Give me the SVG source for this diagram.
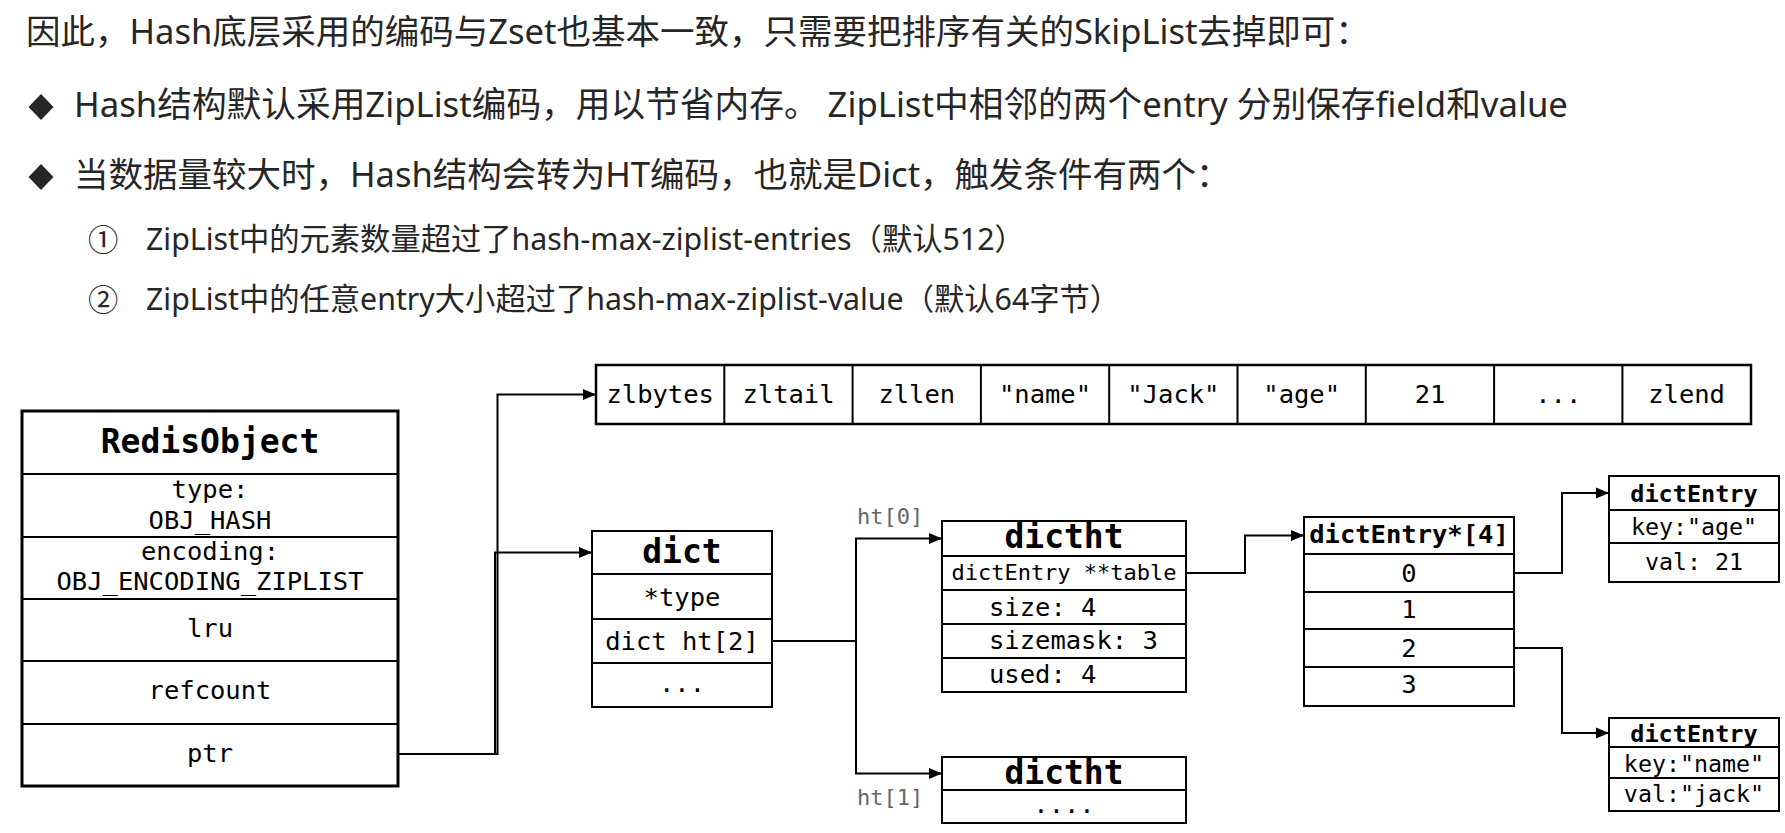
<svg xmlns="http://www.w3.org/2000/svg" width="1785" height="833" viewBox="0 0 1785 833">
<style>
.hd{font-family:"Noto Sans","Noto Sans CJK SC",sans-serif;fill:#262626}
.h1{font-size:34.5px}
.h2{font-size:30.3px}
.m{font-family:"DejaVu Sans Mono","Liberation Mono",monospace;fill:#000;font-size:25.5px}
.c{text-anchor:middle}
.b{font-weight:bold}
.t{font-size:33px}
.box{fill:#fff;stroke:#000;stroke-width:2}
.thick{stroke-width:3}
.zl{stroke-width:2.5}
.ln{fill:none;stroke:#000;stroke-width:2}
.gray{fill:#666;font-size:22px}
.conn{fill:none;stroke:#000;stroke-width:2}
</style>
<defs>
<marker id="arr" markerUnits="userSpaceOnUse" markerWidth="14" markerHeight="12" refX="13" refY="6" orient="auto">
<path d="M0,0.5 L13,6 L0,11.5 Z" fill="#000"/>
</marker>
</defs>
<rect width="1785" height="833" fill="#fff"/>

<g id="header">
<text class="hd h1" x="26" y="44">因此，Hash底层采用的编码与Zset也基本一致，只需要把排序有关的SkipList去掉即可：</text>
<polygon points="41,94 53.5,107 41,120 28.5,107" fill="#262626"/>
<text class="hd h1" x="74" y="117" style="font-size:34.7px">Hash结构默认采用ZipList编码，用以节省内存。 ZipList中相邻的两个entry 分别保存field和value</text>
<polygon points="41,164 53.5,177 41,190 28.5,177" fill="#262626"/>
<text class="hd h1" x="74" y="187">当数据量较大时，Hash结构会转为HT编码，也就是Dict，触发条件有两个：</text>
<text class="hd h2" x="88" y="251">①</text>
<text class="hd h2" x="146" y="250">ZipList中的元素数量超过了hash-max-ziplist-entries（默认512）</text>
<text class="hd h2" x="88" y="311">②</text>
<text class="hd h2" x="146" y="310">ZipList中的任意entry大小超过了hash-max-ziplist-value（默认64字节）</text>
</g>

<g id="redisObject">
<rect class="box thick" x="22" y="411" width="376" height="375"/>
<path class="ln thick" d="M22,474H398M22,537H398M22,599H398M22,661H398M22,724H398"/>
<text class="m b t c" x="210" y="453">RedisObject</text>
<text class="m c" x="210" y="498">type:</text>
<text class="m c" x="210" y="529">OBJ_HASH</text>
<text class="m c" x="210" y="560">encoding:</text>
<text class="m c" x="210" y="590">OBJ_ENCODING_ZIPLIST</text>
<text class="m c" x="210" y="637">lru</text>
<text class="m c" x="210" y="699">refcount</text>
<text class="m c" x="210" y="762">ptr</text>
</g>

<g id="ziplist">
<rect class="box zl" x="596" y="365" width="1155" height="59"/>
<path class="ln zl" d="M724.3,365V424M852.6,365V424M980.9,365V424M1109.2,365V424M1237.5,365V424M1365.8,365V424M1494.1,365V424M1622.4,365V424"/>
<text class="m c" x="660.2" y="403">zlbytes</text>
<text class="m c" x="788.5" y="403">zltail</text>
<text class="m c" x="916.8" y="403">zllen</text>
<text class="m c" x="1045" y="403">"name"</text>
<text class="m c" x="1173.4" y="403">"Jack"</text>
<text class="m c" x="1301.7" y="403">"age"</text>
<text class="m c" x="1430" y="403">21</text>
<text class="m c" x="1558.3" y="403">...</text>
<text class="m c" x="1686.6" y="403">zlend</text>
</g>

<g id="dict">
<rect class="box" x="592" y="531" width="180" height="176"/>
<path class="ln" d="M592,574H772M592,619H772M592,663H772"/>
<text class="m b t c" x="682" y="563">dict</text>
<text class="m c" x="682" y="606">*type</text>
<text class="m c" x="682" y="650">dict ht[2]</text>
<text class="m c" x="682" y="692">...</text>
</g>

<g id="dictht0">
<rect class="box" x="942" y="521" width="244" height="171"/>
<path class="ln" d="M942,556H1186M942,590H1186M942,624H1186M942,658H1186"/>
<text class="m b t c" x="1064" y="548">dictht</text>
<text class="m c" x="1064" y="580" style="font-size:22px">dictEntry **table</text>
<text class="m" x="989" y="616">size: 4</text>
<text class="m" x="989" y="649">sizemask: 3</text>
<text class="m" x="989" y="683">used: 4</text>
</g>

<g id="dictht1">
<rect class="box" x="942" y="757" width="244" height="66"/>
<path class="ln" d="M942,790H1186"/>
<text class="m b t c" x="1064" y="784">dictht</text>
<text class="m c" x="1064" y="813">....</text>
</g>

<g id="labels">
<text class="m gray" x="857" y="524">ht[0]</text>
<text class="m gray" x="857" y="805">ht[1]</text>
</g>

<g id="dictEntryArray">
<rect class="box" x="1304" y="517" width="210" height="189"/>
<path class="ln" d="M1304,554H1514M1304,592H1514M1304,629H1514M1304,667H1514"/>
<text class="m b c" x="1409" y="543">dictEntry*[4]</text>
<text class="m c" x="1409" y="582">0</text>
<text class="m c" x="1409" y="618">1</text>
<text class="m c" x="1409" y="657">2</text>
<text class="m c" x="1409" y="693">3</text>
</g>

<g id="dictEntryAge">
<rect class="box" x="1609" y="476" width="170" height="106"/>
<path class="ln" d="M1609,510H1779M1609,543H1779"/>
<text class="m b c" x="1694" y="502" style="font-size:23.5px">dictEntry</text>
<text class="m c" x="1694" y="535" style="font-size:23.3px">key:"age"</text>
<text class="m c" x="1694" y="570" style="font-size:23.3px">val: 21</text>
</g>

<g id="dictEntryName">
<rect class="box" x="1609" y="718" width="170" height="93"/>
<path class="ln" d="M1609,747H1779M1609,778H1779"/>
<text class="m b c" x="1694" y="742" style="font-size:23.5px">dictEntry</text>
<text class="m c" x="1694" y="772" style="font-size:23.3px">key:"name"</text>
<text class="m c" x="1694" y="802" style="font-size:23.3px">val:"jack"</text>
</g>

<g id="connectors">
<path class="conn" d="M398,754H497.5V394.5H596" marker-end="url(#arr)"/>
<path class="conn" d="M398,754H495V552.5H592" marker-end="url(#arr)"/>
<path class="conn" d="M772,641H856V538.5H942" marker-end="url(#arr)"/>
<path class="conn" d="M856,641V773.5H942" marker-end="url(#arr)"/>
<path class="conn" d="M1186,573H1245V535.5H1304" marker-end="url(#arr)"/>
<path class="conn" d="M1514,573H1562V493H1609" marker-end="url(#arr)"/>
<path class="conn" d="M1514,648H1562V733H1609" marker-end="url(#arr)"/>
</g>
</svg>
